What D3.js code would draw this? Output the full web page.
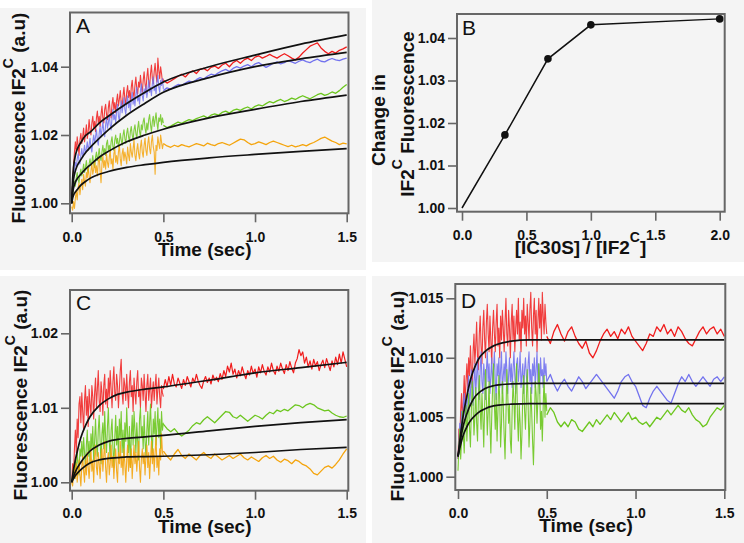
<!DOCTYPE html>
<html><head><meta charset="utf-8">
<script src="https://cdn.jsdelivr.net/npm/d3@7"></script>
<style>
html,body{margin:0;padding:0;background:#fff;}
svg{display:block;font-family:"Liberation Sans",Arial,Helvetica,sans-serif;}
</style></head><body>
<svg id="fig" width="744" height="543"></svg>
<script>
// ---------- DATA (fluorescence values stored as (F - 1) x 10^4) ----------
const UNIT = 1e-4;
const tDense = d3.range(101).map(i => i * 0.005);          // 0 .. 0.5 s
const tCoarse = d3.range(51).map(i => 0.5 + i * 0.02);     // 0.5 .. 1.5 s
const tCoarseFine = d3.range(101).map(i => 0.5 + i * 0.01);// 0.5 .. 1.5 s

const timeTicks = [0, 0.5, 1.0, 1.5];

// Panel A
const A_yTicks = [1.00, 1.02, 1.04];
const A_red_dense = [0,60,110,150,180,150,195,170,140,185,205,175,195,220,180,200,230,190,210,245,215,200,235,255,220,240,210,250,270,235,255,225,260,285,250,235,275,290,260,245,280,300,265,250,290,310,275,295,265,300,320,285,305,330,295,280,315,340,305,290,325,345,310,330,300,340,360,325,310,345,370,335,320,355,340,375,345,325,360,385,350,330,370,395,355,340,380,405,365,350,385,410,375,355,425,390,365,400,380,355,365];
const A_red_coarse = [360,352,358,365,372,378,370,382,388,380,392,395,388,398,402,395,405,410,400,412,418,410,420,425,418,428,432,425,430,436,430,425,432,438,432,425,420,428,440,450,460,465,470,455,445,438,445,440,448,452,458];
const A_blue_dense = [0,35,75,100,120,105,130,145,125,115,140,160,135,150,170,145,160,180,155,170,190,165,150,180,200,175,195,215,185,170,205,225,195,215,240,210,195,230,250,220,235,260,230,215,250,275,245,260,235,270,290,255,240,275,300,265,285,310,275,260,295,315,280,300,270,305,325,290,310,285,320,340,300,315,290,330,350,315,300,335,320,345,310,330,360,325,340,315,350,370,330,345,320,355,375,340,325,360,345,365,335];
const A_blue_coarse = [330,338,334,342,348,345,352,358,355,362,368,364,372,378,375,382,388,392,386,395,400,396,402,406,400,408,412,405,398,404,410,414,408,412,418,414,410,416,420,415,412,418,422,416,414,420,424,420,418,422,425];
const A_green_dense = [0,20,45,65,50,75,90,70,60,85,100,80,95,115,90,105,125,100,90,115,130,110,120,140,115,105,135,150,125,140,160,135,125,150,170,145,160,140,175,185,155,170,150,180,195,165,155,185,200,175,190,165,180,205,185,170,200,215,190,175,205,220,195,180,210,225,200,185,215,230,205,190,220,240,210,195,230,215,240,250,220,205,235,215,245,260,230,210,240,255,225,245,265,235,215,250,240,260,230,250,235];
const A_green_coarse = [228,222,226,232,238,234,240,245,242,248,252,256,250,258,262,258,266,270,264,272,276,272,278,282,276,284,288,285,292,298,294,300,304,298,302,308,304,310,315,310,306,312,318,322,316,320,326,322,330,340,348];
const A_orange_dense = [-10,-20,5,-15,15,35,10,45,60,25,50,70,40,85,65,50,90,75,105,80,60,95,115,85,100,125,90,110,80,120,135,95,60,115,140,105,125,100,145,120,105,135,155,115,130,100,145,160,120,140,115,150,170,130,110,145,160,125,150,135,115,165,140,125,175,150,135,160,185,140,125,155,175,145,130,165,185,150,135,170,190,155,140,175,195,160,145,180,200,165,150,85,170,155,195,175,160,200,180,160,175];
const A_orange_coarse = [175,168,164,170,166,172,168,165,170,175,172,168,176,172,169,175,178,174,170,176,182,188,186,178,172,175,180,176,172,178,182,178,174,170,166,170,165,168,172,168,174,178,184,190,194,188,182,178,172,176,174];
const A_fitT = [0,0.005,0.01,0.02,0.03,0.05,0.075,0.1,0.15,0.2,0.3,0.4,0.5,0.75,1.0,1.25,1.5];
const A_fit1 = [0,70,105,140,158,178,198,208,235,255,292,325,355,400,434,466,493];
const A_fit2 = [0,45,70,95,110,128,148,163,190,215,258,293,325,368,400,423,442];
const A_fit3 = [0,30,45,62,72,85,100,112,135,152,180,200,217,250,275,298,317];
const A_fit4 = [0,15,24,33,40,53,64,73,85,93,105,113,120,133,143,152,160];

// Panel B
const B_ratio = [0, 0.333, 0.667, 1.0, 2.0];
const B_change = [1.000, 1.0172, 1.0351, 1.0431, 1.0445];
const B_xTicks = [0, 0.5, 1.0, 1.5, 2.0];
const B_yTicks = [1.00, 1.01, 1.02, 1.03, 1.04];

// Panel C
const C_yTicks = [1.00, 1.01, 1.02];
const C_red_dense = [0,25,10,45,70,40,85,60,105,115,80,120,95,70,110,130,90,115,75,125,105,90,130,115,85,120,140,100,125,150,110,95,135,120,90,130,145,105,125,100,140,115,150,125,100,135,155,120,110,145,130,100,125,150,165,120,105,140,130,110,145,120,100,135,150,115,130,95,140,120,105,135,150,115,125,100,140,130,110,145,120,95,130,145,110,125,140,100,120,135,110,130,145,105,125,140,115,100,130,120,115];
const C_red_coarse = [125,138,128,142,130,145,132,128,140,133,126,138,130,142,135,128,140,134,145,136,130,126,136,142,134,140,132,144,137,141,135,146,138,150,142,156,148,160,145,152,140,150,143,155,146,139,150,144,156,146,152,141,155,147,158,149,144,155,148,160,150,145,156,149,160,152,146,158,150,162,153,147,160,166,178,170,175,160,168,155,163,152,165,156,162,150,158,164,154,166,158,150,163,155,168,158,172,160,175,165,155];
const C_green_dense = [0,10,20,5,30,15,40,25,10,45,35,55,30,60,40,20,50,70,35,55,25,65,45,75,30,55,85,50,35,70,90,55,25,65,80,45,95,60,40,75,100,55,30,70,85,45,20,60,90,50,75,35,85,60,95,40,70,30,80,55,100,65,40,75,20,60,90,50,95,70,40,80,55,30,85,100,60,75,45,90,55,35,70,95,50,80,105,60,40,85,65,95,50,75,100,60,85,45,95,70,80];
const C_green_coarse = [78,72,68,72,66,62,66,70,76,80,78,84,88,84,80,85,90,95,94,88,86,90,86,82,86,90,88,85,90,94,92,97,95,98,96,100,104,103,100,104,106,104,100,98,96,97,93,90,88,87,89];
const C_orange_dense = [0,-5,10,20,5,25,0,15,30,10,-5,20,35,15,0,30,10,40,20,5,25,45,15,30,0,35,50,20,10,40,25,5,30,45,15,35,55,20,0,30,40,10,25,50,20,35,5,30,45,15,0,40,25,55,20,35,10,45,25,0,30,50,15,35,20,45,5,30,50,25,40,15,35,55,20,0,30,45,25,40,10,35,50,20,40,5,30,55,25,45,15,40,60,20,35,10,45,30,65,40,35];
const C_orange_coarse = [42,35,30,38,44,36,32,38,34,30,36,40,35,32,38,34,30,33,36,32,35,38,33,30,34,31,28,33,36,32,35,30,27,31,29,25,30,28,24,22,18,12,10,15,20,22,19,24,30,38,45];
const C_fitT = [0,0.005,0.01,0.02,0.03,0.05,0.075,0.1,0.15,0.2,0.25,0.3,0.4,0.5,0.75,1.0,1.25,1.5];
const C_fitRed = [0,9,17,30,41,60,76,88,103,112,118,121,125,128,137,147,154,161];
const C_fitGreen = [0,4,8,14,19,27,35,42,50,55,57.5,59,61,63,69,75,80,84];
const C_fitOrange = [0,3,5,9,12,17,22,26,30,32,33,34,34.5,35,37,40,44,47];

// Panel D
const D_yTicks = [1.000, 1.005, 1.010, 1.015];
const D_red_dense = [15,40,30,55,70,45,65,85,60,80,95,75,100,85,110,90,75,105,120,95,110,130,100,90,120,135,110,95,125,140,115,100,130,145,120,105,135,115,95,125,140,120,105,130,145,110,125,100,135,115,140,125,105,130,150,120,110,140,125,100,130,145,115,135,105,125,140,120,150,115,130,105,140,125,150,120,135,110,145,130,115,140,155,125,110,135,150,120,140,105,130,150,125,145,115,155,135,120,145,130,120];
const D_red_coarse = [118,112,122,128,120,114,122,126,118,112,108,114,104,100,106,114,120,124,118,122,116,124,120,126,118,114,110,106,112,120,118,126,122,128,120,124,118,126,122,116,112,110,116,122,126,120,124,126,120,124,118];
const D_blue_dense = [15,30,45,35,55,40,60,70,50,65,55,75,85,60,70,90,75,60,80,95,70,85,100,75,65,90,105,80,70,95,85,65,90,105,80,95,70,85,100,75,90,105,80,65,95,85,100,75,90,105,70,85,95,80,105,90,70,85,100,80,95,75,90,105,85,70,95,100,80,90,105,75,85,95,70,90,100,85,75,95,105,80,90,70,95,85,100,75,90,105,80,95,70,100,85,90,75,100,85,95,80];
const D_blue_coarse = [80,86,78,72,78,82,76,72,78,84,80,74,78,82,86,82,78,74,70,66,72,80,84,86,80,76,68,60,58,66,72,76,72,68,64,62,70,78,84,80,86,80,76,80,84,80,76,82,84,80,84];
const D_green_dense = [5,25,40,15,30,55,35,20,45,60,30,50,70,40,25,55,80,60,35,50,75,45,30,65,85,55,40,70,50,25,60,90,65,35,55,80,45,20,50,75,95,60,40,70,30,55,85,65,25,45,80,60,35,15,50,90,70,45,60,30,20,55,80,65,40,75,95,50,30,60,45,15,35,70,85,55,40,65,90,60,25,45,75,55,30,10,40,80,70,45,65,95,75,40,55,30,60,85,50,70,55];
const D_green_coarse = [52,58,54,46,42,46,42,48,46,40,38,42,46,42,48,44,48,52,48,54,50,46,50,54,48,50,46,44,46,42,46,50,48,52,56,52,56,60,56,54,58,52,48,46,42,44,50,54,58,56,60];
const D_fitT = [0,0.01,0.02,0.03,0.05,0.075,0.1,0.125,0.15,0.2,0.25,0.3,0.4,0.5,1.0,1.5];
const D_fitRed = [17,30,42,52,68,84,94,101,105,110,112.5,114,115,115,115,115];
const D_fitBlue = [17,27,36,43,53,62,68,71.5,74,76.5,77.5,78,78.5,78.5,78.5,78.5];
const D_fitGreen = [17,24,30,35,42,48,52,55,57,59.5,60.5,61,61.5,61.5,61.5,61.5];

// ---------- STYLE ----------
const COL = {red:"#f01c1c", blue:"#7272ee", green:"#6cc61e", orange:"#f4a40c", fit:"#111111", frame:"#666666", bg:"#f4f4f4"};

const svg = d3.select("#fig");

// panel backgrounds
[[0,8,366,262],[372,0,372,262],[0,276,366,267],[372,276,372,267]].forEach(r=>{
  svg.append("rect").attr("x",r[0]).attr("y",r[1]).attr("width",r[2]).attr("height",r[3]).attr("fill",COL.bg);
});

function panel(c){
  const g = svg.append("g");
  const x = d3.scaleLinear().domain(c.xDom).range(c.xRng);
  const y = d3.scaleLinear().domain(c.yDom).range(c.yRng);
  const [l,t,r,b] = c.frame;
  svg.append("clipPath").attr("id","clip"+c.name).append("rect")
    .attr("x",l).attr("y",t).attr("width",r-l).attr("height",b-t);
  const xa = d3.axisBottom(x).tickValues(c.xTicks).tickFormat(d3.format(".1f")).tickSize(9).tickPadding(c.xPad);
  const ya = d3.axisLeft(y).tickValues(c.yTicks).tickFormat(d3.format(c.yFmt)).tickSize(9).tickPadding(3);
  const gx = g.append("g").attr("transform",`translate(0,${b})`).call(xa);
  const gy = g.append("g").attr("transform",`translate(${l},0)`).call(ya);
  [gx,gy].forEach(a=>{
    a.select(".domain").remove();
    a.selectAll(".tick line").attr("stroke",COL.frame).attr("stroke-width",1.6);
    a.selectAll(".tick text").attr("fill","#111").attr("font-size",14).attr("font-weight","bold")
      .attr("font-family","'Liberation Sans',Arial,sans-serif");
  });
  const plot = g.append("g").attr("clip-path",`url(#clip${c.name})`);
  g.append("rect").attr("x",l).attr("y",t).attr("width",r-l).attr("height",b-t)
    .attr("fill","none").attr("stroke",COL.frame).attr("stroke-width",2);
  g.append("text").attr("x",c.letter[0]).attr("y",c.letter[1]).attr("font-size",21)
    .attr("fill","#111").text(c.name);
  return {g,x,y,plot};
}

function addLabel(t, parts){
  parts.forEach(p=>{
    const s = t.append("tspan").text(p.s);
    if(p.sup){ s.attr("font-size",14).attr("dy",-12); }
    else if(p.after){ s.attr("dy",12); }
  });
}
function yLabel(g, bx, cy, parts){
  const t = g.append("text").attr("transform",`translate(${bx},${cy}) rotate(-90)`)
    .attr("text-anchor","middle").attr("font-size",19).attr("font-weight","bold").attr("fill","#111");
  addLabel(t, parts);
}
function xLabel(g, cx, by, parts){
  const t = g.append("text").attr("x",cx).attr("y",by).attr("text-anchor","middle")
    .attr("font-size",19).attr("font-weight","bold").attr("fill","#111");
  addLabel(t, parts);
}
const yLab = [{s:"Fluorescence IF2"},{s:"C",sup:true},{s:" (a.u)",after:true}];

function trace(P, times, vals, color, w, op){
  const line = d3.line().x((d,i)=>P.x(times[i])).y(d=>P.y(1 + d*UNIT));
  P.plot.append("path").datum(vals).attr("d",line).attr("fill","none")
    .attr("stroke",color).attr("stroke-width",w).attr("stroke-opacity",op).attr("stroke-linejoin","round");
}
function fit(P, times, vals){
  const line = d3.line().curve(d3.curveMonotoneX).x((d,i)=>P.x(times[i])).y(d=>P.y(1 + d*UNIT));
  P.plot.append("path").datum(vals).attr("d",line).attr("fill","none")
    .attr("stroke",COL.fit).attr("stroke-width",1.7);
}

// ---------- PANEL A ----------
const PA = panel({name:"A", frame:[70,12.5,348.5,213.3], xDom:[0,1.5], xRng:[71.7,346.7],
  yDom:[1.00,1.04], yRng:[203.3,66.7], xTicks:timeTicks, yTicks:A_yTicks, yFmt:".2f", xPad:10, letter:[76,33]});
[[A_red_dense,A_red_coarse,COL.red],[A_blue_dense,A_blue_coarse,COL.blue],
 [A_green_dense,A_green_coarse,COL.green],[A_orange_dense,A_orange_coarse,COL.orange]].forEach(s=>{
  trace(PA,tDense,s[0],s[2],1.1,0.85);
  trace(PA,tCoarse,s[1],s[2],1.3,1);
});
[A_fit1,A_fit2,A_fit3,A_fit4].forEach(f=>fit(PA,A_fitT,f));
xLabel(PA.g,204.7,256,[{s:"Time (sec)"}]);
yLabel(PA.g,25,118,yLab);

// ---------- PANEL B ----------
const PB = panel({name:"B", frame:[457,14,724.7,211.7], xDom:[0,2], xRng:[462,719.7],
  yDom:[1.00,1.04], yRng:[208,38], xTicks:B_xTicks, yTicks:B_yTicks, yFmt:".2f", xPad:9.3, letter:[462,35]});
const bLine = d3.line().x((d,i)=>PB.x(B_ratio[i])).y(d=>PB.y(d));
PB.plot.append("path").datum(B_change).attr("d",bLine).attr("fill","none").attr("stroke","#111").attr("stroke-width",1.5);
PB.plot.selectAll("circle").data(B_change.map((v,i)=>[B_ratio[i],v]).filter(d=>d[0]>0)).join("circle")
  .attr("cx",d=>PB.x(d[0])).attr("cy",d=>PB.y(d[1])).attr("r",3.8).attr("fill","#111");
xLabel(PB.g,580.5,254,[{s:"[IC30S] / [IF2"},{s:"C",sup:true},{s:"]",after:true}]);
yLabel(PB.g,385,120,[{s:"Change in"}]);
yLabel(PB.g,413.7,114,[{s:"IF2"},{s:"C",sup:true},{s:" Fluorescence",after:true}]);

// ---------- PANEL C ----------
const PC = panel({name:"C", frame:[70,290,348.3,490.7], xDom:[0,1.5], xRng:[71.7,346.7],
  yDom:[1.00,1.02], yRng:[482.3,333.3], xTicks:timeTicks, yTicks:C_yTicks, yFmt:".2f", xPad:8.6, letter:[76,310]});
trace(PC,tDense,C_red_dense,COL.red,1.1,0.85);
trace(PC,tCoarseFine,C_red_coarse,COL.red,1.2,1);
trace(PC,tDense,C_green_dense,COL.green,1.1,0.9);
trace(PC,tCoarse,C_green_coarse,COL.green,1.3,1);
trace(PC,tDense,C_orange_dense,COL.orange,1.1,0.9);
trace(PC,tCoarse,C_orange_coarse,COL.orange,1.3,1);
[C_fitRed,C_fitGreen,C_fitOrange].forEach(f=>fit(PC,C_fitT,f));
xLabel(PC.g,204.7,532.7,[{s:"Time (sec)"}]);
yLabel(PC.g,26.5,395,yLab);

// ---------- PANEL D ----------
const PD = panel({name:"D", frame:[455.3,284,725.3,490], xDom:[0,1.5], xRng:[458,724.3],
  yDom:[1.000,1.015], yRng:[476.7,298.3], xTicks:timeTicks, yTicks:D_yTicks, yFmt:".3f", xPad:9, letter:[461,308]});
trace(PD,tDense,D_red_dense,COL.red,1.1,0.85);
trace(PD,tCoarse,D_red_coarse,COL.red,1.3,1);
trace(PD,tDense,D_blue_dense,COL.blue,1.1,0.9);
trace(PD,tCoarse,D_blue_coarse,COL.blue,1.3,1);
trace(PD,tDense,D_green_dense,COL.green,1.1,0.9);
trace(PD,tCoarse,D_green_coarse,COL.green,1.3,1);
[D_fitRed,D_fitBlue,D_fitGreen].forEach(f=>fit(PD,D_fitT,f));
xLabel(PD.g,586,532,[{s:"Time (sec)"}]);
yLabel(PD.g,403.7,396,yLab);
</script>
</body></html>
